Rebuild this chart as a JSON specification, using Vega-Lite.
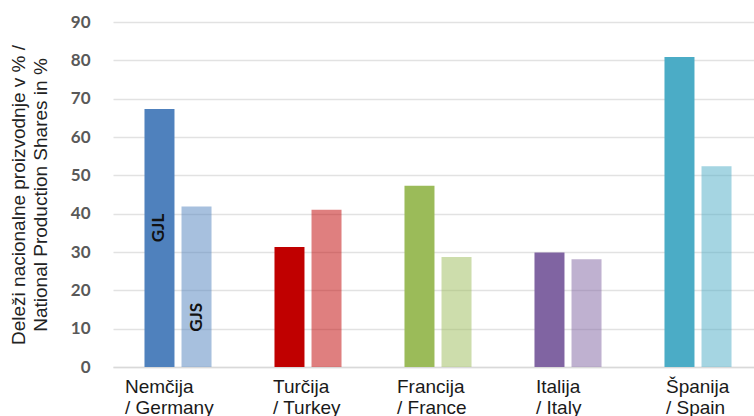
{
  "$schema": "https://vega.github.io/schema/vega-lite/v6.json",
  "width": 641,
  "height": 345,
  "autosize": {"type": "none"},
  "padding": {"left": 113, "top": 22, "right": 0, "bottom": 49},
  "background": "white",
  "config": {"view": {"stroke": null}},
  "data": {
    "values": [
      {"country": "Nemčija / Germany", "type": "GJL", "share": 67.3},
      {"country": "Nemčija / Germany", "type": "GJS", "share": 41.9},
      {"country": "Turčija / Turkey", "type": "GJL", "share": 31.3},
      {"country": "Turčija / Turkey", "type": "GJS", "share": 41.0},
      {"country": "Francija / France", "type": "GJL", "share": 47.3},
      {"country": "Francija / France", "type": "GJS", "share": 28.7},
      {"country": "Italija / Italy", "type": "GJL", "share": 29.9},
      {"country": "Italija / Italy", "type": "GJS", "share": 28.1},
      {"country": "Španija / Spain", "type": "GJL", "share": 80.9},
      {"country": "Španija / Spain", "type": "GJS", "share": 52.4}
    ]
  },
  "encoding": {
    "x": {
      "field": "country",
      "type": "nominal",
      "sort": null,
      "title": null,
      "scale": {"range": [0, 650], "paddingInner": 0, "paddingOuter": 0},
      "axis": {
        "labelAngle": 0,
        "labelExpr": "[split(datum.label, ' / ')[0], '/ ' + split(datum.label, ' / ')[1]]",
        "labelFont": "Liberation Sans",
        "labelFontSize": 19,
        "labelLineHeight": 21,
        "labelColor": "#1a1a1a",
        "labelAlign": "left",
        "labelBaseline": "top",
        "labelOffset": {
          "condition": [
            {"test": "datum.value == 'Nemčija / Germany'", "value": -53},
            {"test": "datum.value == 'Turčija / Turkey'", "value": -35},
            {"test": "datum.value == 'Francija / France'", "value": -41}
          ],
          "value": -32
        },
        "labelPadding": 10,
        "labelOverlap": false,
        "labelBound": false,
        "ticks": false,
        "domainColor": "#d9d9d9",
        "domainWidth": 1.5
      }
    },
    "xOffset": {
      "field": "type",
      "type": "nominal",
      "sort": ["GJL", "GJS"],
      "scale": {"paddingInner": 0.19, "paddingOuter": 0.85}
    },
    "y": {
      "field": "share",
      "type": "quantitative",
      "scale": {"domain": [0, 90]},
      "title": ["Deleži nacionalne proizvodnje v % /", "National Production Shares in %"],
      "axis": {
        "values": [0, 10, 20, 30, 40, 50, 60, 70, 80, 90],
        "labelOverlap": false,
        "domain": false,
        "ticks": false,
        "gridColor": "#e2e2e2",
        "gridWidth": 1.5,
        "labelFont": "Lato",
        "labelFontWeight": "bold",
        "labelFontSize": 17,
        "labelColor": "#595959",
        "labelPadding": 23,
        "titleFont": "Liberation Sans",
        "titleFontWeight": "normal",
        "titleFontSize": 19,
        "titleColor": "#222222",
        "titleLineHeight": 22,
        "titlePadding": 20
      }
    }
  },
  "layer": [
    {
      "mark": {"type": "bar"},
      "encoding": {
        "color": {
          "field": "country",
          "type": "nominal",
          "sort": null,
          "legend": null,
          "scale": {
            "domain": ["Nemčija / Germany", "Turčija / Turkey", "Francija / France", "Italija / Italy", "Španija / Spain"],
            "range": ["#4f81bd", "#c00000", "#9bbb59", "#8064a2", "#4bacc6"]
          }
        },
        "opacity": {
          "field": "type",
          "type": "nominal",
          "legend": null,
          "scale": {"domain": ["GJL", "GJS"], "range": [1, 0.5]}
        }
      }
    },
    {
      "transform": [{"filter": "datum.country == 'Nemčija / Germany' && datum.type == 'GJL'"}],
      "mark": {"type": "text", "angle": 270, "dx": -119, "align": "center", "baseline": "middle", "font": "Lato", "fontWeight": "bold", "fontSize": 17, "color": "#111111"},
      "encoding": {
        "text": {"field": "type"}
      }
    },
    {
      "transform": [{"filter": "datum.country == 'Nemčija / Germany' && datum.type == 'GJS'"}],
      "mark": {"type": "text", "angle": 270, "dx": -111, "align": "center", "baseline": "middle", "font": "Lato", "fontWeight": "bold", "fontSize": 17, "color": "#111111"},
      "encoding": {
        "text": {"field": "type"}
      }
    }
  ]
}
